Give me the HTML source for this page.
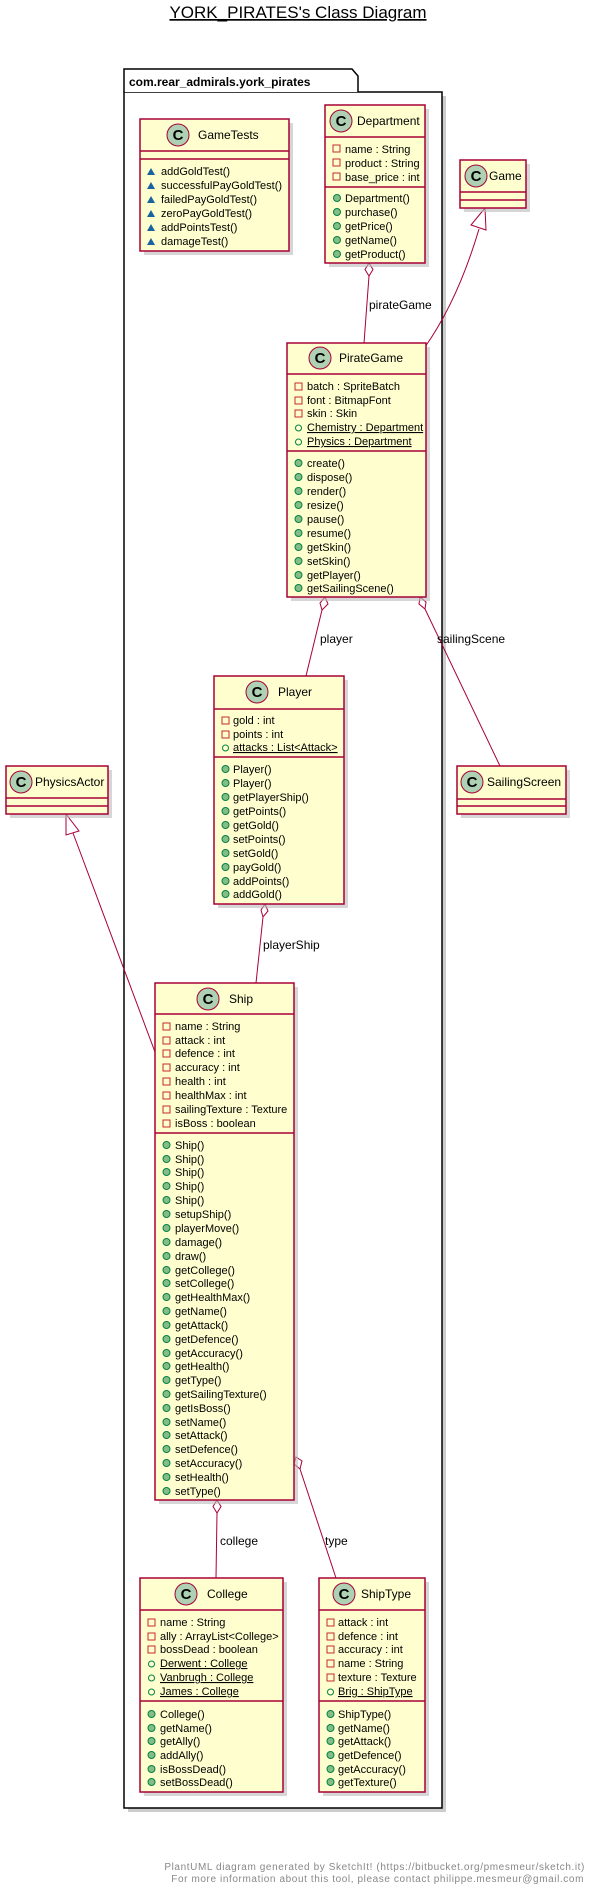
<!DOCTYPE html>
<html><head><meta charset="utf-8"><style>
html,body{margin:0;padding:0;background:#fff}
svg{display:block}
text{font-family:"Liberation Sans",sans-serif;fill:#000}
.m{font-size:11px}
.n{font-size:12px}
.b{fill:#FEFECE;stroke:#A80036;stroke-width:1.5}
.s{fill:#bbb;opacity:.6}
.l{stroke:#A80036;stroke-width:1.5;fill:none}
.c{fill:#ADD1B2;stroke:#A80036;stroke-width:1}
.pr{fill:none;stroke:#C82930;stroke-width:1}
.pm{fill:#84BE84;stroke:#038048;stroke-width:1}
.pf{fill:none;stroke:#038048;stroke-width:1}
.pk{fill:#1963A0}
.u{text-decoration:underline}
.ln{stroke:#A80036;stroke-width:1;fill:none}
.lb{font-size:12px}
</style></head><body>
<svg width="596" height="1894" viewBox="0 0 596 1894" xmlns="http://www.w3.org/2000/svg">
<defs>
<g id="C"><circle class="c" r="11" cx="0" cy="0"/><text x="0" y="5" text-anchor="middle" style="font-size:15px;font-weight:bold">C</text></g>
</defs>
<text x="298" y="18" text-anchor="middle" style="font-size:17px;text-decoration:underline">YORK_PIRATES's Class Diagram</text>

<rect x="128" y="96" width="318" height="1716" fill="#ccc"/>
<rect x="124" y="92" width="318" height="1716" fill="#fff" stroke="#000" stroke-width="1.5"/>
<path d="M124,92 L124,69 L352,69 L358,76 L358,92" fill="#fff" stroke="#000" stroke-width="1.5"/>
<text x="129" y="86" style="font-size:12px;font-weight:bold">com.rear_admirals.york_pirates</text>

<path class="ln" d="M369,276 L364,343"/>
<polygon points="369,263 373,269.5 369,276 365,269.5" fill="#fff" stroke="#A80036"/>
<text class="lb" x="369" y="309">pirateGame</text>

<path class="ln" d="M479,229 Q458,300 425,347"/>
<polygon points="485,208 471,225 486,230" fill="#fff" stroke="#A80036"/>

<path class="ln" d="M322,610 L306,676"/>
<polygon points="325,597 328,604 322,610 320,603" fill="#fff" stroke="#A80036"/>
<text class="lb" x="320" y="643">player</text>

<path class="ln" d="M425,609 L500,766"/>
<polygon points="420,597 426,602 425,609 419,604" fill="#fff" stroke="#A80036"/>
<text class="lb" x="437" y="643">sailingScene</text>

<path class="ln" d="M263,917 L256,983"/>
<polygon points="265,904 268,911 263,917 261,910" fill="#fff" stroke="#A80036"/>
<text class="lb" x="263" y="949">playerShip</text>

<path class="ln" d="M73,833 L155,1052"/>
<polygon points="66,814 66,835 79,831" fill="#fff" stroke="#A80036"/>

<path class="ln" d="M217,1513 L216,1578"/>
<polygon points="217,1500 221,1506.5 217,1513 213,1506.5" fill="#fff" stroke="#A80036"/>
<text class="lb" x="220" y="1545">college</text>

<path class="ln" d="M300,1469 L336,1578"/>
<polygon points="296,1457 302,1461 300,1469 294,1464" fill="#fff" stroke="#A80036"/>
<text class="lb" x="325" y="1545">type</text>

<rect class="s" x="144" y="123" width="149" height="132"/>
<rect class="b" x="140" y="119" width="149" height="132"/>
<line class="l" x1="140" y1="151" x2="289" y2="151"/><line class="l" x1="140" y1="159" x2="289" y2="159"/>
<use href="#C" x="178" y="135"/><text class="n" x="198" y="139">GameTests</text>
<g class="m">
<polygon class="pk" points="147,175 151,168 155,175"/><text x="161" y="175">addGoldTest()</text>
<polygon class="pk" points="147,189 151,182 155,189"/><text x="161" y="189">successfulPayGoldTest()</text>
<polygon class="pk" points="147,203 151,196 155,203"/><text x="161" y="203">failedPayGoldTest()</text>
<polygon class="pk" points="147,217 151,210 155,217"/><text x="161" y="217">zeroPayGoldTest()</text>
<polygon class="pk" points="147,231 151,224 155,231"/><text x="161" y="231">addPointsTest()</text>
<polygon class="pk" points="147,245 151,238 155,245"/><text x="161" y="245">damageTest()</text>
</g>

<rect class="s" x="329" y="109" width="100" height="158"/>
<rect class="b" x="325" y="105" width="100" height="158"/>
<line class="l" x1="325" y1="137" x2="425" y2="137"/><line class="l" x1="325" y1="187" x2="425" y2="187"/>
<use href="#C" x="341" y="121"/><text class="n" x="357" y="125">Department</text>
<g class="m">
<rect class="pr" x="333" y="145" width="7" height="7"/><text x="345" y="153">name : String</text>
<rect class="pr" x="333" y="159" width="7" height="7"/><text x="345" y="167">product : String</text>
<rect class="pr" x="333" y="173" width="7" height="7"/><text x="345" y="181">base_price : int</text>
<circle class="pm" cx="337" cy="198" r="3.5"/><text x="345" y="202">Department()</text>
<circle class="pm" cx="337" cy="212" r="3.5"/><text x="345" y="216">purchase()</text>
<circle class="pm" cx="337" cy="226" r="3.5"/><text x="345" y="230">getPrice()</text>
<circle class="pm" cx="337" cy="240" r="3.5"/><text x="345" y="244">getName()</text>
<circle class="pm" cx="337" cy="254" r="3.5"/><text x="345" y="258">getProduct()</text>
</g>

<rect class="s" x="464" y="164" width="66" height="48"/>
<rect class="b" x="460" y="160" width="66" height="48"/>
<line class="l" x1="460" y1="192" x2="526" y2="192"/><line class="l" x1="460" y1="200" x2="526" y2="200"/>
<use href="#C" x="476" y="176"/><text class="n" x="489" y="180">Game</text>

<rect class="s" x="291" y="347" width="139" height="254"/>
<rect class="b" x="287" y="343" width="139" height="254"/>
<line class="l" x1="287" y1="374" x2="426" y2="374"/><line class="l" x1="287" y1="451" x2="426" y2="451"/>
<use href="#C" x="320" y="358"/><text class="n" x="339" y="362">PirateGame</text>
<g class="m">
<rect class="pr" x="295" y="383" width="7" height="7"/><text x="307" y="390">batch : SpriteBatch</text>
<rect class="pr" x="295" y="397" width="7" height="7"/><text x="307" y="404">font : BitmapFont</text>
<rect class="pr" x="295" y="410" width="7" height="7"/><text x="307" y="417">skin : Skin</text>
<circle class="pf" cx="298.5" cy="428" r="3"/><text class="u" x="307" y="431">Chemistry : Department</text>
<circle class="pf" cx="298.5" cy="442" r="3"/><text class="u" x="307" y="445">Physics : Department</text>
<circle class="pm" cx="298.5" cy="463" r="3.5"/><text x="307" y="467">create()</text>
<circle class="pm" cx="298.5" cy="477" r="3.5"/><text x="307" y="481">dispose()</text>
<circle class="pm" cx="298.5" cy="491" r="3.5"/><text x="307" y="495">render()</text>
<circle class="pm" cx="298.5" cy="505" r="3.5"/><text x="307" y="509">resize()</text>
<circle class="pm" cx="298.5" cy="519" r="3.5"/><text x="307" y="523">pause()</text>
<circle class="pm" cx="298.5" cy="533" r="3.5"/><text x="307" y="537">resume()</text>
<circle class="pm" cx="298.5" cy="547" r="3.5"/><text x="307" y="551">getSkin()</text>
<circle class="pm" cx="298.5" cy="561" r="3.5"/><text x="307" y="565">setSkin()</text>
<circle class="pm" cx="298.5" cy="575" r="3.5"/><text x="307" y="579">getPlayer()</text>
<circle class="pm" cx="298.5" cy="588" r="3.5"/><text x="307" y="592">getSailingScene()</text>
</g>

<rect class="s" x="218" y="680" width="130" height="228"/>
<rect class="b" x="214" y="676" width="130" height="228"/>
<line class="l" x1="214" y1="709" x2="344" y2="709"/><line class="l" x1="214" y1="757" x2="344" y2="757"/>
<use href="#C" x="257" y="692"/><text class="n" x="278" y="696">Player</text>
<g class="m">
<rect class="pr" x="222" y="717" width="7" height="7"/><text x="233" y="724">gold : int</text>
<rect class="pr" x="222" y="731" width="7" height="7"/><text x="233" y="738">points : int</text>
<circle class="pf" cx="225.5" cy="748" r="3"/><text class="u" x="233" y="751">attacks : List&lt;Attack&gt;</text>
<circle class="pm" cx="225.5" cy="769" r="3.5"/><text x="233" y="773">Player()</text>
<circle class="pm" cx="225.5" cy="783" r="3.5"/><text x="233" y="787">Player()</text>
<circle class="pm" cx="225.5" cy="797" r="3.5"/><text x="233" y="801">getPlayerShip()</text>
<circle class="pm" cx="225.5" cy="811" r="3.5"/><text x="233" y="815">getPoints()</text>
<circle class="pm" cx="225.5" cy="825" r="3.5"/><text x="233" y="829">getGold()</text>
<circle class="pm" cx="225.5" cy="839" r="3.5"/><text x="233" y="843">setPoints()</text>
<circle class="pm" cx="225.5" cy="853" r="3.5"/><text x="233" y="857">setGold()</text>
<circle class="pm" cx="225.5" cy="867" r="3.5"/><text x="233" y="871">payGold()</text>
<circle class="pm" cx="225.5" cy="881" r="3.5"/><text x="233" y="885">addPoints()</text>
<circle class="pm" cx="225.5" cy="894" r="3.5"/><text x="233" y="898">addGold()</text>
</g>

<rect class="s" x="461" y="770" width="109" height="48"/>
<rect class="b" x="457" y="766" width="109" height="48"/>
<line class="l" x1="457" y1="799" x2="566" y2="799"/><line class="l" x1="457" y1="806" x2="566" y2="806"/>
<use href="#C" x="472" y="782"/><text class="n" x="487" y="786">SailingScreen</text>

<rect class="s" x="10" y="770" width="102" height="48"/>
<rect class="b" x="6" y="766" width="102" height="48"/>
<line class="l" x1="6" y1="798" x2="108" y2="798"/><line class="l" x1="6" y1="806" x2="108" y2="806"/>
<use href="#C" x="21" y="782"/><text class="n" x="35" y="786">PhysicsActor</text>

<rect class="s" x="159" y="987" width="139" height="517"/>
<rect class="b" x="155" y="983" width="139" height="517"/>
<line class="l" x1="155" y1="1014" x2="294" y2="1014"/><line class="l" x1="155" y1="1133" x2="294" y2="1133"/>
<use href="#C" x="208" y="999"/><text class="n" x="229" y="1003">Ship</text>
<g class="m">
<rect class="pr" x="163" y="1023" width="7" height="7"/><text x="175" y="1030">name : String</text>
<rect class="pr" x="163" y="1037" width="7" height="7"/><text x="175" y="1044">attack : int</text>
<rect class="pr" x="163" y="1050" width="7" height="7"/><text x="175" y="1057">defence : int</text>
<rect class="pr" x="163" y="1064" width="7" height="7"/><text x="175" y="1071">accuracy : int</text>
<rect class="pr" x="163" y="1078" width="7" height="7"/><text x="175" y="1085">health : int</text>
<rect class="pr" x="163" y="1092" width="7" height="7"/><text x="175" y="1099">healthMax : int</text>
<rect class="pr" x="163" y="1106" width="7" height="7"/><text x="175" y="1113">sailingTexture : Texture</text>
<rect class="pr" x="163" y="1120" width="7" height="7"/><text x="175" y="1127">isBoss : boolean</text>
<circle class="pm" cx="166.5" cy="1145" r="3.5"/><text x="175" y="1149">Ship()</text>
<circle class="pm" cx="166.5" cy="1159" r="3.5"/><text x="175" y="1163">Ship()</text>
<circle class="pm" cx="166.5" cy="1172" r="3.5"/><text x="175" y="1176">Ship()</text>
<circle class="pm" cx="166.5" cy="1186" r="3.5"/><text x="175" y="1190">Ship()</text>
<circle class="pm" cx="166.5" cy="1200" r="3.5"/><text x="175" y="1204">Ship()</text>
<circle class="pm" cx="166.5" cy="1214" r="3.5"/><text x="175" y="1218">setupShip()</text>
<circle class="pm" cx="166.5" cy="1228" r="3.5"/><text x="175" y="1232">playerMove()</text>
<circle class="pm" cx="166.5" cy="1242" r="3.5"/><text x="175" y="1246">damage()</text>
<circle class="pm" cx="166.5" cy="1256" r="3.5"/><text x="175" y="1260">draw()</text>
<circle class="pm" cx="166.5" cy="1270" r="3.5"/><text x="175" y="1274">getCollege()</text>
<circle class="pm" cx="166.5" cy="1283" r="3.5"/><text x="175" y="1287">setCollege()</text>
<circle class="pm" cx="166.5" cy="1297" r="3.5"/><text x="175" y="1301">getHealthMax()</text>
<circle class="pm" cx="166.5" cy="1311" r="3.5"/><text x="175" y="1315">getName()</text>
<circle class="pm" cx="166.5" cy="1325" r="3.5"/><text x="175" y="1329">getAttack()</text>
<circle class="pm" cx="166.5" cy="1339" r="3.5"/><text x="175" y="1343">getDefence()</text>
<circle class="pm" cx="166.5" cy="1353" r="3.5"/><text x="175" y="1357">getAccuracy()</text>
<circle class="pm" cx="166.5" cy="1366" r="3.5"/><text x="175" y="1370">getHealth()</text>
<circle class="pm" cx="166.5" cy="1380" r="3.5"/><text x="175" y="1384">getType()</text>
<circle class="pm" cx="166.5" cy="1394" r="3.5"/><text x="175" y="1398">getSailingTexture()</text>
<circle class="pm" cx="166.5" cy="1408" r="3.5"/><text x="175" y="1412">getIsBoss()</text>
<circle class="pm" cx="166.5" cy="1422" r="3.5"/><text x="175" y="1426">setName()</text>
<circle class="pm" cx="166.5" cy="1435" r="3.5"/><text x="175" y="1439">setAttack()</text>
<circle class="pm" cx="166.5" cy="1449" r="3.5"/><text x="175" y="1453">setDefence()</text>
<circle class="pm" cx="166.5" cy="1463" r="3.5"/><text x="175" y="1467">setAccuracy()</text>
<circle class="pm" cx="166.5" cy="1477" r="3.5"/><text x="175" y="1481">setHealth()</text>
<circle class="pm" cx="166.5" cy="1491" r="3.5"/><text x="175" y="1495">setType()</text>
</g>

<rect class="s" x="144" y="1582" width="143" height="214"/>
<rect class="b" x="140" y="1578" width="143" height="214"/>
<line class="l" x1="140" y1="1610" x2="283" y2="1610"/><line class="l" x1="140" y1="1701" x2="283" y2="1701"/>
<use href="#C" x="186" y="1594"/><text class="n" x="207" y="1598">College</text>
<g class="m">
<rect class="pr" x="148" y="1619" width="7" height="7"/><text x="160" y="1626">name : String</text>
<rect class="pr" x="148" y="1633" width="7" height="7"/><text x="160" y="1640">ally : ArrayList&lt;College&gt;</text>
<rect class="pr" x="148" y="1646" width="7" height="7"/><text x="160" y="1653">bossDead : boolean</text>
<circle class="pf" cx="151.5" cy="1664" r="3"/><text class="u" x="160" y="1667">Derwent : College</text>
<circle class="pf" cx="151.5" cy="1678" r="3"/><text class="u" x="160" y="1681">Vanbrugh : College</text>
<circle class="pf" cx="151.5" cy="1692" r="3"/><text class="u" x="160" y="1695">James : College</text>
<circle class="pm" cx="151.5" cy="1714" r="3.5"/><text x="160" y="1718">College()</text>
<circle class="pm" cx="151.5" cy="1728" r="3.5"/><text x="160" y="1732">getName()</text>
<circle class="pm" cx="151.5" cy="1741" r="3.5"/><text x="160" y="1745">getAlly()</text>
<circle class="pm" cx="151.5" cy="1755" r="3.5"/><text x="160" y="1759">addAlly()</text>
<circle class="pm" cx="151.5" cy="1769" r="3.5"/><text x="160" y="1773">isBossDead()</text>
<circle class="pm" cx="151.5" cy="1782" r="3.5"/><text x="160" y="1786">setBossDead()</text>
</g>

<rect class="s" x="323" y="1582" width="106" height="214"/>
<rect class="b" x="319" y="1578" width="106" height="214"/>
<line class="l" x1="319" y1="1610" x2="425" y2="1610"/><line class="l" x1="319" y1="1701" x2="425" y2="1701"/>
<use href="#C" x="344" y="1594"/><text class="n" x="361" y="1598">ShipType</text>
<g class="m">
<rect class="pr" x="327" y="1619" width="7" height="7"/><text x="338" y="1626">attack : int</text>
<rect class="pr" x="327" y="1633" width="7" height="7"/><text x="338" y="1640">defence : int</text>
<rect class="pr" x="327" y="1646" width="7" height="7"/><text x="338" y="1653">accuracy : int</text>
<rect class="pr" x="327" y="1660" width="7" height="7"/><text x="338" y="1667">name : String</text>
<rect class="pr" x="327" y="1674" width="7" height="7"/><text x="338" y="1681">texture : Texture</text>
<circle class="pf" cx="330.5" cy="1692" r="3"/><text class="u" x="338" y="1695">Brig : ShipType</text>
<circle class="pm" cx="330.5" cy="1714" r="3.5"/><text x="338" y="1718">ShipType()</text>
<circle class="pm" cx="330.5" cy="1728" r="3.5"/><text x="338" y="1732">getName()</text>
<circle class="pm" cx="330.5" cy="1741" r="3.5"/><text x="338" y="1745">getAttack()</text>
<circle class="pm" cx="330.5" cy="1755" r="3.5"/><text x="338" y="1759">getDefence()</text>
<circle class="pm" cx="330.5" cy="1769" r="3.5"/><text x="338" y="1773">getAccuracy()</text>
<circle class="pm" cx="330.5" cy="1782" r="3.5"/><text x="338" y="1786">getTexture()</text>
</g>

<text x="585" y="1870" text-anchor="end" style="font-size:10px;fill:#888;letter-spacing:0.6px">PlantUML diagram generated by SketchIt! (https://bitbucket.org/pmesmeur/sketch.it)</text>
<text x="584" y="1882" text-anchor="end" style="font-size:10px;fill:#888;letter-spacing:0.6px">For more information about this tool, please contact philippe.mesmeur@gmail.com</text>
</svg>
</body></html>
